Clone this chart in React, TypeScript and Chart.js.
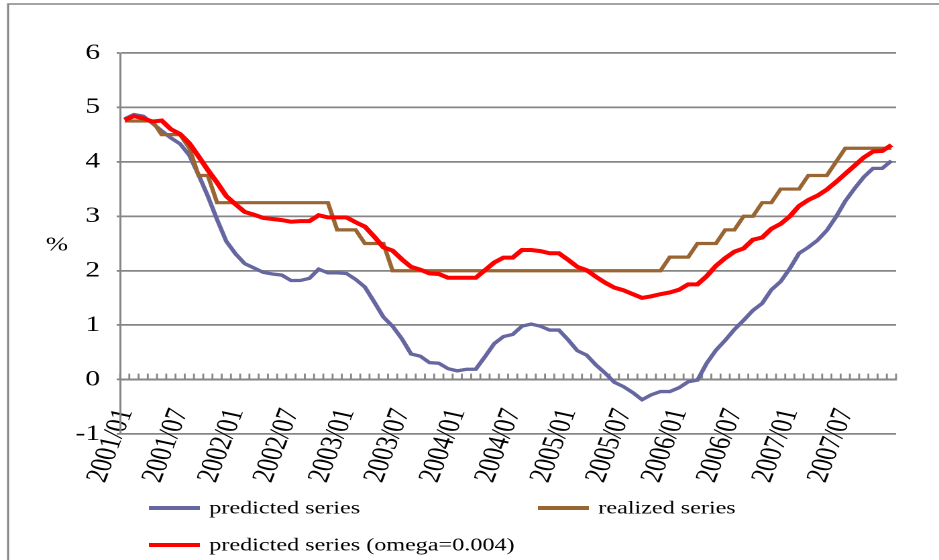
import React, { useEffect, useRef } from 'react';
import { Chart, registerables } from 'chart.js';

Chart.register(...registerables);

// ---------- data ----------
const years = ['2001', '2002', '2003', '2004', '2005', '2006', '2007'];
const monthsOfYear = ['01', '02', '03', '04', '05', '06', '07', '08', '09', '10', '11', '12'];
const categories = years.flatMap((y) => monthsOfYear.map((m) => `${y}/${m}`));

const tickLabels = [
  '2001/01', '2001/07', '2002/01', '2002/07', '2003/01', '2003/07', '2004/01',
  '2004/07', '2005/01', '2005/07', '2006/01', '2006/07', '2007/01', '2007/07',
];
const yTicks = [-1, 0, 1, 2, 3, 4, 5, 6];

const predicted = [
  4.79, 4.87, 4.84, 4.71, 4.57, 4.44, 4.33, 4.12, 3.76, 3.37, 2.94, 2.54,
  2.31, 2.13, 2.05, 1.97, 1.94, 1.92, 1.82, 1.82, 1.86, 2.03, 1.96, 1.96,
  1.95, 1.84, 1.70, 1.43, 1.15, 0.98, 0.75, 0.47, 0.43, 0.31, 0.30, 0.20,
  0.16, 0.19, 0.19, 0.42, 0.66, 0.79, 0.83, 0.98, 1.02, 0.98, 0.91, 0.91,
  0.73, 0.53, 0.45, 0.27, 0.12, -0.05, -0.13, -0.24, -0.37, -0.28, -0.22, -0.22,
  -0.15, -0.04, -0.01, 0.30, 0.54, 0.72, 0.92, 1.09, 1.27, 1.40, 1.65, 1.80,
  2.04, 2.32, 2.43, 2.56, 2.74, 2.99, 3.28, 3.51, 3.72, 3.88, 3.88, 4.02,
];

const realized = [
  4.75, 4.75, 4.75, 4.75, 4.5, 4.5, 4.5, 4.25, 3.75, 3.75, 3.25, 3.25,
  3.25, 3.25, 3.25, 3.25, 3.25, 3.25, 3.25, 3.25, 3.25, 3.25, 3.25, 2.75,
  2.75, 2.75, 2.5, 2.5, 2.5, 2.0, 2.0, 2.0, 2.0, 2.0, 2.0, 2.0,
  2.0, 2.0, 2.0, 2.0, 2.0, 2.0, 2.0, 2.0, 2.0, 2.0, 2.0, 2.0,
  2.0, 2.0, 2.0, 2.0, 2.0, 2.0, 2.0, 2.0, 2.0, 2.0, 2.0, 2.25,
  2.25, 2.25, 2.5, 2.5, 2.5, 2.75, 2.75, 3.0, 3.0, 3.25, 3.25, 3.5,
  3.5, 3.5, 3.75, 3.75, 3.75, 4.0, 4.25, 4.25, 4.25, 4.25, 4.25, 4.25,
];

const predictedOmega = [
  4.77, 4.84, 4.80, 4.74, 4.76, 4.60, 4.51, 4.34, 4.10, 3.85, 3.62, 3.37,
  3.22, 3.08, 3.03, 2.97, 2.95, 2.93, 2.90, 2.91, 2.91, 3.02, 2.98, 2.98,
  2.98, 2.89, 2.81, 2.63, 2.43, 2.37, 2.21, 2.07, 2.02, 1.95, 1.94, 1.87,
  1.87, 1.87, 1.87, 2.01, 2.15, 2.24, 2.24, 2.38, 2.38, 2.36, 2.32, 2.32,
  2.20, 2.07, 2.01, 1.89, 1.78, 1.69, 1.64, 1.57, 1.50, 1.53, 1.57, 1.60,
  1.65, 1.75, 1.75, 1.90, 2.09, 2.23, 2.35, 2.41, 2.57, 2.61, 2.77, 2.86,
  3.00, 3.19, 3.30, 3.38, 3.49, 3.63, 3.78, 3.93, 4.08, 4.19, 4.20, 4.31,
];

const seriesNames = ['predicted series', 'realized series', 'predicted series (omega=0.004)'];
const yAxisTitle = '%';

// ---------- styles ----------
const FONT = '"Liberation Serif", "Times New Roman", serif';
const GRID = '#868686';
const COLORS = ['#6666A0', '#996633', '#FF0000'];
const WIDTHS = [3.3, 3.2, 4];

// canvas is drawn narrower and stretched horizontally to the page width
const CANVAS_W = 700;
const CANVAS_H = 560;

const decorPlugin = {
  id: 'decor',
  beforeDraw(chart: any) {
    const { ctx, width, height } = chart;
    ctx.save();
    ctx.fillStyle = '#ffffff';
    ctx.fillRect(0, 0, width, height);
    ctx.strokeStyle = '#858585';
    ctx.lineWidth = 1.5;
    ctx.beginPath();
    ctx.moveTo(6, height + 5);
    ctx.lineTo(6, 4);
    ctx.lineTo(width + 5, 4);
    ctx.stroke();
    ctx.restore();
  },
  beforeDatasetsDraw(chart: any) {
    const { ctx } = chart;
    const xs = chart.scales.x;
    const ys = chart.scales.y;
    const y0 = ys.getPixelForValue(0);
    ctx.save();
    ctx.strokeStyle = GRID;
    ctx.lineWidth = 1.4;
    ctx.beginPath();
    for (let k = 0; k <= categories.length; k++) {
      const px = xs.getPixelForValue(k - 0.5);
      ctx.moveTo(px, y0);
      ctx.lineTo(px, y0 - 6);
    }
    ctx.stroke();
    ctx.restore();
  },
  afterDraw(chart: any) {
    const { ctx } = chart;
    ctx.save();
    // y axis title
    ctx.fillStyle = '#000';
    ctx.font = `20px ${FONT}`;
    ctx.textAlign = 'center';
    ctx.textBaseline = 'middle';
    ctx.fillText(yAxisTitle, 42.5, 245);

    // legend
    const items = [
      { x: 111, y: 508 },
      { x: 401, y: 508 },
      { x: 111, y: 545 },
    ];
    ctx.font = `18px ${FONT}`;
    ctx.textAlign = 'left';
    chart.data.datasets.forEach((ds: any, i: number) => {
      const p = items[i];
      ctx.strokeStyle = ds.borderColor;
      ctx.lineWidth = 4;
      ctx.beginPath();
      ctx.moveTo(p.x, p.y);
      ctx.lineTo(p.x + 38, p.y);
      ctx.stroke();
      ctx.fillStyle = '#000';
      ctx.fillText(ds.label, p.x + 45, p.y + 1);
    });
    ctx.restore();
  },
};

const zeroPadding = (s: any) => {
  s.paddingLeft = 0;
  s.paddingRight = 0;
  s.paddingTop = 0;
  s.paddingBottom = 0;
};

export default function App() {
  const canvasRef = useRef<HTMLCanvasElement | null>(null);

  useEffect(() => {
    const canvas = canvasRef.current;
    if (!canvas) return;
    const series = [predicted, realized, predictedOmega];
    const chart = new Chart(canvas, {
      type: 'line',
      data: {
        labels: categories,
        datasets: series.map((d, i) => ({
          label: seriesNames[i],
          data: d,
          borderColor: COLORS[i],
          backgroundColor: COLORS[i],
          borderWidth: WIDTHS[i],
          pointRadius: 0,
          tension: 0,
          fill: false,
          order: 3 - i,
        })),
      },
      options: {
        animation: false,
        responsive: false,
        maintainAspectRatio: false,
        devicePixelRatio: 2,
        events: [],
        layout: { padding: { left: 0, right: 32, top: 53, bottom: 126 } },
        plugins: {
          legend: { display: false },
          tooltip: { enabled: false },
        },
        scales: {
          x: {
            type: 'category',
            offset: true,
            position: { y: 0 } as any,
            afterFit: zeroPadding,
            grid: { display: true, drawOnChartArea: false, drawTicks: false },
            border: { display: true, color: GRID, width: 1.5 },
            ticks: {
              autoSkip: false,
              minRotation: 74,
              maxRotation: 74,
              padding: 26,
              color: '#000',
              font: { family: FONT, size: 23 },
              callback: (_v: any, index: number) => {
                const l = categories[index];
                return tickLabels.includes(l) ? l : '';
              },
            },
          },
          y: {
            type: 'linear',
            min: -1,
            max: 6,
            afterBuildTicks: (s: any) => {
              s.ticks = yTicks.map((v) => ({ value: v }));
            },
            afterFit: (s: any) => {
              s.width = 89.5;
              zeroPadding(s);
            },
            grid: { color: GRID, lineWidth: 1.8, tickLength: 2.5 },
            border: { display: true, color: GRID, width: 1.5 },
            ticks: {
              padding: 12.4,
              color: '#000',
              font: { family: FONT, size: 22 },
            },
          },
        },
      },
      plugins: [decorPlugin],
    });
    return () => chart.destroy();
  }, []);

  return (
    <div style={{ position: 'fixed', left: 0, top: 0, width: 939, height: 560, background: '#fff' }}>
      <canvas
        ref={canvasRef}
        width={CANVAS_W}
        height={CANVAS_H}
        style={{ width: '939px', height: '560px', display: 'block' }}
      />
    </div>
  );
}
